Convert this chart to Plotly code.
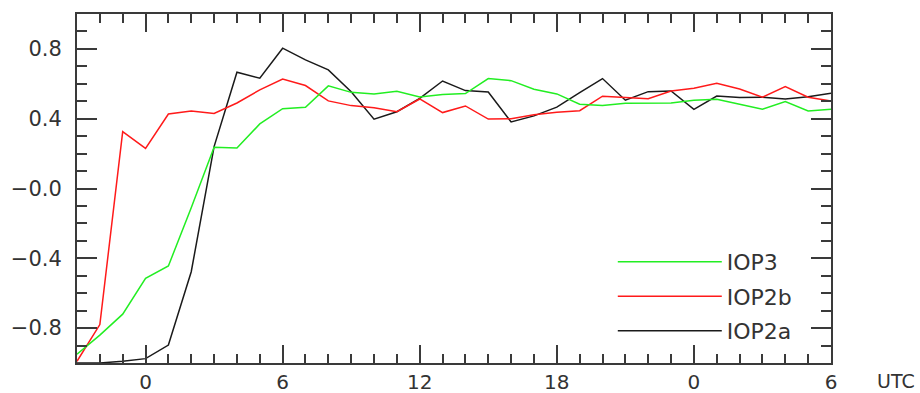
import plotly.graph_objects as go

hours = list(range(-3, 31))

iop2a = [-1.0, -1.0, -0.99, -0.975, -0.897, -0.477, 0.24, 0.666, 0.632, 0.804,
         0.737, 0.68, 0.555, 0.397, 0.44, 0.517, 0.616, 0.561, 0.553, 0.381,
         0.416, 0.466, 0.549, 0.63, 0.506, 0.555, 0.559, 0.454, 0.53, 0.521,
         0.523, 0.513, 0.526, 0.546]

iop2b = [-0.99, -0.78, 0.326, 0.23, 0.427, 0.444, 0.43, 0.49, 0.565, 0.627,
         0.59, 0.502, 0.475, 0.463, 0.44, 0.513, 0.435, 0.473, 0.398, 0.40,
         0.423, 0.437, 0.446, 0.529, 0.521, 0.515, 0.559, 0.574, 0.603, 0.57,
         0.523, 0.584, 0.523, 0.502]

iop3 = [-0.95, -0.84, -0.72, -0.515, -0.444, -0.11, 0.236, 0.232, 0.37, 0.457,
        0.466, 0.588, 0.551, 0.542, 0.557, 0.525, 0.538, 0.544, 0.63, 0.618,
        0.569, 0.542, 0.483, 0.475, 0.489, 0.49, 0.49, 0.506, 0.511, 0.483,
        0.454, 0.498, 0.444, 0.454]

x_tickvals = [0, 6, 12, 18, 24, 30]
x_ticktext = ["0", "6", "12", "18", "0", "6"]
y_tickvals = [-0.8, -0.4, 0.0, 0.4, 0.8]
y_ticktext = ["\u22120.8", "\u22120.4", "\u22120.0", "0.4", "0.8"]

FONT = "DejaVu Sans"
AX = "#3a3a3a"
TXT = "#333333"

fig = go.Figure()
fig.add_trace(go.Scatter(x=hours, y=iop2a, mode="lines", name="IOP2a",
                         line=dict(color="#1a1a1a", width=1.5),
                         legendgroup="a", legendrank=3))
fig.add_trace(go.Scatter(x=hours, y=iop2b, mode="lines", name="IOP2b",
                         line=dict(color="#ff1a1a", width=1.5),
                         legendgroup="b", legendrank=2))
fig.add_trace(go.Scatter(x=hours, y=iop3, mode="lines", name="IOP3",
                         line=dict(color="#22ee22", width=1.5),
                         legendgroup="c", legendrank=1))

fig.update_layout(
    width=920, height=393,
    margin=dict(l=77, r=89, t=14, b=30),
    paper_bgcolor="white", plot_bgcolor="white",
    font=dict(family=FONT, size=21, color=TXT),
    showlegend=True,
    legend=dict(x=0.7106, y=0.35, xanchor="left", yanchor="top",
                traceorder="grouped", tracegroupgap=3,
                itemwidth=104, bgcolor="rgba(0,0,0,0)",
                font=dict(family=FONT, size=22, color=TXT)),
    xaxis=dict(range=[-3, 30], tickmode="array", tickvals=x_tickvals,
               ticktext=x_ticktext, showgrid=False, zeroline=False,
               showline=True, linecolor=AX, linewidth=2, mirror="allticks",
               ticks="inside", ticklen=18, tickwidth=2, tickcolor=AX,
               ticklabelstandoff=0, automargin=False,
               tickfont=dict(family=FONT, size=20, color=TXT),
               minor=dict(dtick=1, tick0=0, ticks="inside", ticklen=9,
                          tickwidth=1.5, tickcolor=AX, showgrid=False)),
    yaxis=dict(range=[-1, 1], tickmode="array", tickvals=y_tickvals,
               ticktext=y_ticktext, showgrid=False, zeroline=False,
               showline=True, linecolor=AX, linewidth=2, mirror="allticks",
               ticks="inside", ticklen=20, tickwidth=2, tickcolor=AX,
               ticklabelstandoff=9, automargin=False,
               minor=dict(dtick=0.1, tick0=0, ticks="inside", ticklen=10,
                          tickwidth=1.5, tickcolor=AX, showgrid=False)),
    annotations=[dict(text="UTC", xref="paper", yref="paper", x=1.0597, y=-0.0516,
                      xanchor="left", yanchor="middle", showarrow=False,
                      borderpad=0,
                      font=dict(family=FONT, size=19, color=TXT))],
)

fig.write_html("out.html", config={"displayModeBar": False},
               post_script="document.body.style.margin='0px';document.body.style.overflow='hidden';")
